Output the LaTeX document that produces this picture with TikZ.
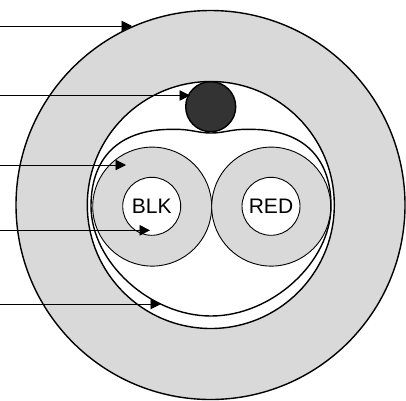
\documentclass[tikz,border=0pt]{standalone}
\usepackage{fontspec}
\setmainfont{Liberation Sans}
\usetikzlibrary{arrows.meta}
\definecolor{jacket}{HTML}{D9D9D9}
\definecolor{drain}{HTML}{333333}
\tikzset{
	wall/.style={circle, draw, inner sep=0pt, line width=1.4pt},
	core/.style={circle, draw, inner sep=0pt, line width=0.9pt},
	pointer/.style={-{Triangle[length=10.5pt,width=10.5pt]}, line width=0.9pt},
}

\begin{document}
\begin{tikzpicture}[x=1pt,y=-1pt]
\useasboundingbox (0,0) rectangle (406,400);
\node[wall, fill=jacket, minimum size=389pt] (jacket) at (210.5,205) {};
\node[wall, fill=white, minimum size=247pt] (shield) at (210.8,205) {};
% foil wrap round the pair
\draw[line width=1.4pt, fill=white] (211,133) .. controls (198,133) and (190,129) .. (175,129.4)
	.. controls (122,128) and (91,155) .. (91,206)
	.. controls (91,262) and (150,316) .. (211,316)
	.. controls (272,316) and (331,262) .. (331,206)
	.. controls (331,155) and (300,128) .. (247,129.4)
	.. controls (232,129) and (224,133) .. (211,133) -- cycle;
\node[core, fill=jacket, minimum size=119pt] (insblk) at (152.2,206.6) {};
\node[core, fill=jacket, minimum size=119pt] (insred) at (271.2,206.6) {};
\node[core, fill=white, minimum size=58pt, font=\fontsize{21}{24}\selectfont] (blk) at (151.7,206.3) {BLK};
\node[core, fill=white, minimum size=58pt, font=\fontsize{21}{24}\selectfont] (red) at (271,206.3) {RED};
\node[wall, fill=drain, minimum size=50pt] (wire) at (210.7,106.7) {};

\coordinate (a1) at (0,26);
\coordinate (b1) at (132,26);
\coordinate (a2) at (0,95.5);
\coordinate (b2) at (190,95.5);
\coordinate (a3) at (0,165);
\coordinate (b3) at (126,165);
\coordinate (a4) at (0,230.3);
\coordinate (b4) at (150,230.3);
\coordinate (a5) at (0,304);
\coordinate (b5) at (161,304);
\foreach \n in {1,...,5}
	\draw[pointer] (a\n) -- (b\n);
\end{tikzpicture}
\end{document}
